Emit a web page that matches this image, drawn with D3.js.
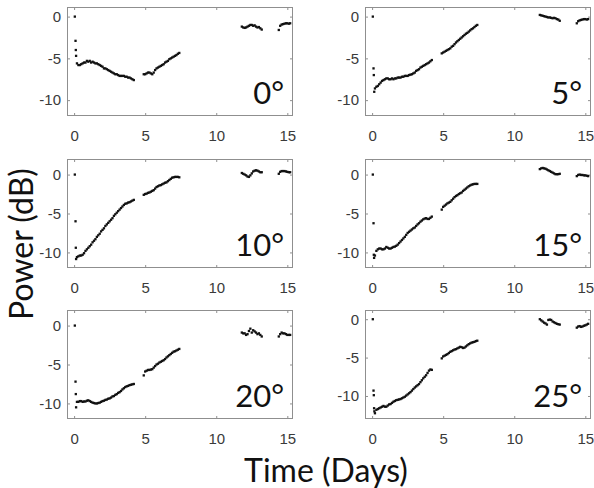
<!DOCTYPE html>
<html><head><meta charset="utf-8">
<script src="https://cdn.jsdelivr.net/npm/d3@7"></script>
<style>body{margin:0;background:#fff} svg{display:block}</style>
</head><body><svg id="c" width="594" height="488"></svg>
<script>
// ---- shared sampling times (days) ----
const t1 = [0.2,0.3,0.4,0.5,0.6,0.7,0.8,0.9,1.0,1.1,1.2,1.3,1.4,1.5,1.6,1.7,1.8,1.9,2.0,2.1,2.2,2.3,2.4,2.5,2.6,2.7,2.8,2.9,3.0,3.1,3.2,3.3,3.4,3.5,3.6,3.7,3.8,3.9,4.0,4.1,4.2];
const t2 = [4.9,5.0,5.1,5.2,5.3,5.4,5.5,5.6,5.7,5.8,5.9,6.0,6.1,6.2,6.3,6.4,6.5,6.6,6.7,6.8,6.9,7.0,7.1,7.2,7.3,7.4];
const t3 = [11.8,11.9,12.0,12.1,12.2,12.3,12.4,12.5,12.6,12.7,12.8,12.9,13.0,13.1,13.2];
const t4 = [14.4,14.5,14.6,14.7,14.8,14.9,15.0,15.1,15.2];

// ---- 0 deg ----
const a0_startT = [0.05,0.1,0.12,0.14];
const a0_startV = [0,-2.9,-4.0,-4.7];
const a0_s1 = [-5.6,-5.8,-5.8,-5.7,-5.6,-5.5,-5.5,-5.3,-5.4,-5.3,-5.5,-5.4,-5.5,-5.6,-5.6,-5.7,-5.8,-5.9,-6.0,-6.2,-6.2,-6.3,-6.4,-6.5,-6.6,-6.7,-6.8,-6.9,-6.9,-7.0,-7.1,-7.1,-7.1,-7.1,-7.2,-7.2,-7.3,-7.3,-7.4,-7.5,-7.6];
const a0_s2 = [-6.9,-6.9,-6.8,-6.7,-6.7,-6.8,-6.9,-6.7,-6.4,-6.2,-6.1,-6.0,-5.9,-5.8,-5.7,-5.5,-5.4,-5.3,-5.1,-5.0,-4.9,-4.8,-4.7,-4.6,-4.45,-4.35];
const a0_s3 = [-1.2,-1.3,-1.35,-1.3,-1.2,-1.1,-1.0,-1.0,-1.1,-1.05,-1.2,-1.3,-1.25,-1.4,-1.55];
const a0_s4 = [-1.6,-1.1,-0.95,-0.9,-0.85,-0.8,-0.8,-0.85,-0.8];

// ---- 5 deg ----
const a5_startT = [0.05,0.1,0.12,0.15];
const a5_startV = [0,-6.2,-7.0,-9.0];
const a5_s1 = [-8.6,-8.4,-8.3,-8.1,-7.9,-7.7,-7.6,-7.5,-7.4,-7.4,-7.5,-7.5,-7.4,-7.5,-7.4,-7.4,-7.3,-7.3,-7.3,-7.2,-7.2,-7.1,-7.1,-7.1,-7.0,-6.95,-6.9,-6.8,-6.7,-6.5,-6.4,-6.3,-6.1,-6.0,-5.9,-5.8,-5.7,-5.6,-5.5,-5.35,-5.2];
const a5_s2 = [-4.4,-4.3,-4.2,-4.1,-4.0,-3.9,-3.8,-3.6,-3.5,-3.3,-3.1,-2.95,-2.8,-2.65,-2.5,-2.35,-2.2,-2.05,-1.95,-1.8,-1.65,-1.5,-1.4,-1.25,-1.1,-1.0];
const a5_s3 = [0.2,0.15,0.1,0.05,0.0,-0.05,-0.1,-0.1,-0.15,-0.2,-0.15,-0.2,-0.3,-0.35,-0.5];
const a5_s4 = [-0.8,-0.55,-0.45,-0.4,-0.35,-0.3,-0.3,-0.35,-0.3];

// ---- 10 deg ----
const a10_startT = [0.05,0.1,0.12,0.14];
const a10_startV = [0,-6.0,-9.4,-10.85];
const a10_s1 = [-10.6,-10.5,-10.4,-10.4,-10.3,-10.1,-9.8,-9.6,-9.4,-9.2,-9.0,-8.7,-8.5,-8.3,-8.0,-7.8,-7.6,-7.3,-7.1,-6.9,-6.6,-6.4,-6.2,-6.0,-5.8,-5.6,-5.3,-5.1,-4.9,-4.7,-4.5,-4.3,-4.1,-3.9,-3.75,-3.7,-3.6,-3.55,-3.45,-3.35,-3.25];
const a10_s2 = [-2.6,-2.5,-2.45,-2.35,-2.3,-2.2,-2.1,-2.0,-1.8,-1.6,-1.5,-1.4,-1.35,-1.25,-1.15,-1.05,-1.0,-0.85,-0.7,-0.55,-0.4,-0.35,-0.3,-0.3,-0.3,-0.35];
const a10_s3 = [0.2,0.1,0.0,-0.1,-0.25,-0.3,-0.1,0.15,0.4,0.5,0.55,0.5,0.4,0.3,0.3];
const a10_s4 = [0.1,0.35,0.45,0.45,0.45,0.4,0.35,0.3,0.3];

// ---- 15 deg ----
const a15_startT = [0.05,0.1,0.12,0.14];
const a15_startV = [0,-6.25,-10.3,-10.7];
const a15_s1 = [-10.4,-9.8,-9.6,-9.5,-9.5,-9.6,-9.6,-9.5,-9.3,-9.4,-9.5,-9.5,-9.4,-9.3,-9.25,-9.15,-9.0,-8.8,-8.6,-8.4,-8.2,-8.0,-7.75,-7.5,-7.35,-7.2,-7.05,-6.9,-6.8,-6.6,-6.4,-6.25,-6.05,-5.9,-5.75,-5.65,-5.6,-5.7,-5.7,-5.55,-5.4];
const a15_s2 = [-4.5,-4.15,-4.0,-3.85,-3.7,-3.6,-3.5,-3.3,-3.1,-2.9,-2.75,-2.65,-2.5,-2.4,-2.3,-2.1,-1.95,-1.8,-1.65,-1.5,-1.4,-1.3,-1.25,-1.2,-1.2,-1.2];
const a15_s3 = [0.7,0.8,0.85,0.8,0.75,0.65,0.55,0.45,0.35,0.25,0.15,0.05,0.05,0.05,0.1];
const a15_s4 = [-0.2,-0.05,0.0,-0.05,-0.05,-0.1,-0.1,-0.15,-0.2];

// ---- 20 deg ----
const a20_startT = [0.05,0.1,0.12,0.14];
const a20_startV = [0,-7.2,-8.8,-10.5];
const a20_s1 = [-9.8,-9.8,-9.7,-9.7,-9.8,-9.75,-9.75,-9.65,-9.6,-9.7,-9.8,-9.9,-9.95,-10.0,-10.0,-9.95,-9.9,-9.8,-9.7,-9.65,-9.55,-9.5,-9.4,-9.35,-9.25,-9.1,-9.05,-8.9,-8.8,-8.65,-8.55,-8.4,-8.2,-8.05,-7.9,-7.8,-7.75,-7.65,-7.6,-7.55,-7.5];
const a20_s2 = [-6.4,-5.9,-5.8,-5.7,-5.7,-5.65,-5.6,-5.4,-5.2,-5.0,-4.9,-4.75,-4.65,-4.55,-4.45,-4.3,-4.1,-3.95,-3.8,-3.65,-3.5,-3.35,-3.3,-3.2,-3.1,-3.0];
const a20_s3 = [-0.9,-1.0,-1.0,-1.2,-1.1,-0.7,-0.4,-0.9,-0.6,-0.75,-0.9,-1.1,-1.0,-1.2,-1.4];
const a20_s4 = [-1.4,-1.1,-0.9,-1.0,-1.0,-1.1,-1.2,-1.2,-1.2];

// ---- 25 deg ----
const a25_startT = [0.05,0.1,0.12,0.14,0.16];
const a25_startV = [0,-9.3,-9.9,-11.6,-12.0];
const a25_s1 = [-12.25,-11.8,-11.7,-11.6,-11.5,-11.4,-11.3,-11.4,-11.4,-11.25,-11.1,-11.05,-10.9,-10.75,-10.65,-10.55,-10.5,-10.45,-10.4,-10.3,-10.2,-10.1,-9.95,-9.8,-9.65,-9.5,-9.3,-9.1,-8.9,-8.75,-8.6,-8.45,-8.2,-7.95,-7.7,-7.5,-7.3,-7.0,-6.7,-6.55,-6.6];
const a25_s2 = [-5.1,-4.85,-4.75,-4.65,-4.55,-4.4,-4.25,-4.15,-4.05,-3.95,-3.9,-3.8,-3.7,-3.6,-3.65,-3.75,-3.7,-3.55,-3.4,-3.25,-3.15,-3.05,-3.0,-2.95,-2.85,-2.8];
const a25_s3 = [0.0,-0.15,-0.3,-0.45,-0.55,-0.7,-0.1,-0.05,-0.1,-0.3,-0.4,-0.5,-0.6,-0.65,-0.7];
const a25_s4 = [-1.1,-0.95,-0.9,-1.0,-0.95,-0.85,-0.8,-0.7,-0.6];

const panelLabels = ["0°","5°","10°","15°","20°","25°"];
const xTicks = [0,5,10,15];
const yTicks = [-10,-5,0];
const xLabel = "Time (Days)";
const yLabel = "Power (dB)";

// ---- layout ----
const colX = [67, 365];
const rowY = [7, 159, 310];
const pw = 226, ph = 109;
const xDomain = [-0.5, 15.4];
const yDomains = [[-11.9,1.15],[-11.9,1.15],[-12,2],[-12,2],[-12,2],[-13,1.2]];

const series = [
  [a0_startT,a0_startV,a0_s1,a0_s2,a0_s3,a0_s4],
  [a5_startT,a5_startV,a5_s1,a5_s2,a5_s3,a5_s4],
  [a10_startT,a10_startV,a10_s1,a10_s2,a10_s3,a10_s4],
  [a15_startT,a15_startV,a15_s1,a15_s2,a15_s3,a15_s4],
  [a20_startT,a20_startV,a20_s1,a20_s2,a20_s3,a20_s4],
  [a25_startT,a25_startV,a25_s1,a25_s2,a25_s3,a25_s4]
];

function buildPoints(s){
  const pts = [];
  s[0].forEach((t,i)=>pts.push([t, s[1][i]]));
  [[t1,s[2]],[t2,s[3]],[t3,s[4]],[t4,s[5]]].forEach(([ts,vs])=>ts.forEach((t,i)=>pts.push([t, vs[i]])));
  return pts;
}

const svg = d3.select("#c");
const boxColor = "#8f8f8f";
const tickTextColor = "#3a3a3a";

series.forEach((s, k) => {
  const col = k % 2, row = Math.floor(k/2);
  const x0 = colX[col], y0 = rowY[row];
  const x = d3.scaleLinear().domain(xDomain).range([0, pw]);
  const y = d3.scaleLinear().domain(yDomains[k]).range([ph, 0]);
  const g = svg.append("g").attr("transform", `translate(${x0},${y0})`);

  const ax = (gen) => gen.tickSizeOuter(0);
  const xb = g.append("g").attr("transform", `translate(0,${ph})`)
    .call(ax(d3.axisBottom(x).tickValues(xTicks).tickSizeInner(-3).tickPadding(14).tickFormat(d=>String(d))));
  const xt = g.append("g")
    .call(ax(d3.axisTop(x).tickValues(xTicks).tickSizeInner(-3).tickFormat("")));
  const yl = g.append("g")
    .call(ax(d3.axisLeft(y).tickValues(yTicks).tickSizeInner(-3).tickPadding(6).tickFormat(d=>String(d))));
  const yr = g.append("g").attr("transform", `translate(${pw},0)`)
    .call(ax(d3.axisRight(y).tickValues(yTicks).tickSizeInner(-3).tickFormat("")));
  [xb,xt,yl,yr].forEach(a=>{
    a.select(".domain").remove();
    a.selectAll("line").attr("stroke", boxColor);
    a.selectAll("text").attr("fill", tickTextColor)
      .style("font-family","'Liberation Sans', Arial, sans-serif").style("font-size","15px");
  });
  g.append("rect").attr("x",0.5).attr("y",0.5).attr("width",pw-1).attr("height",ph-1)
    .attr("fill","none").attr("stroke", boxColor).attr("stroke-width",1);

  const pts = buildPoints(s);
  const r = 2.3;
  g.append("g").selectAll("rect").data(pts).join("rect")
    .attr("x", d => x(d[0]) - r/2).attr("y", d => y(d[1]) - r/2)
    .attr("width", r).attr("height", r).attr("fill", "#111");

  g.append("text").attr("x", pw - 9).attr("y", ph - 12)
    .attr("text-anchor","end").attr("fill","#111")
    .style("font-family","Lato, 'Open Sans', sans-serif").style("font-size","31px")
    .text(panelLabels[k]);
});

svg.append("text").attr("x", 326).attr("y", 482).attr("text-anchor","middle")
  .attr("fill","#111").style("font-family","Lato, 'Open Sans', sans-serif").style("font-size","32px")
  .text(xLabel);
svg.append("text").attr("transform","translate(33,244) rotate(-90)").attr("text-anchor","middle")
  .attr("fill","#111").style("font-family","Lato, 'Open Sans', sans-serif").style("font-size","32px")
  .text(yLabel);
</script>
</body></html>
